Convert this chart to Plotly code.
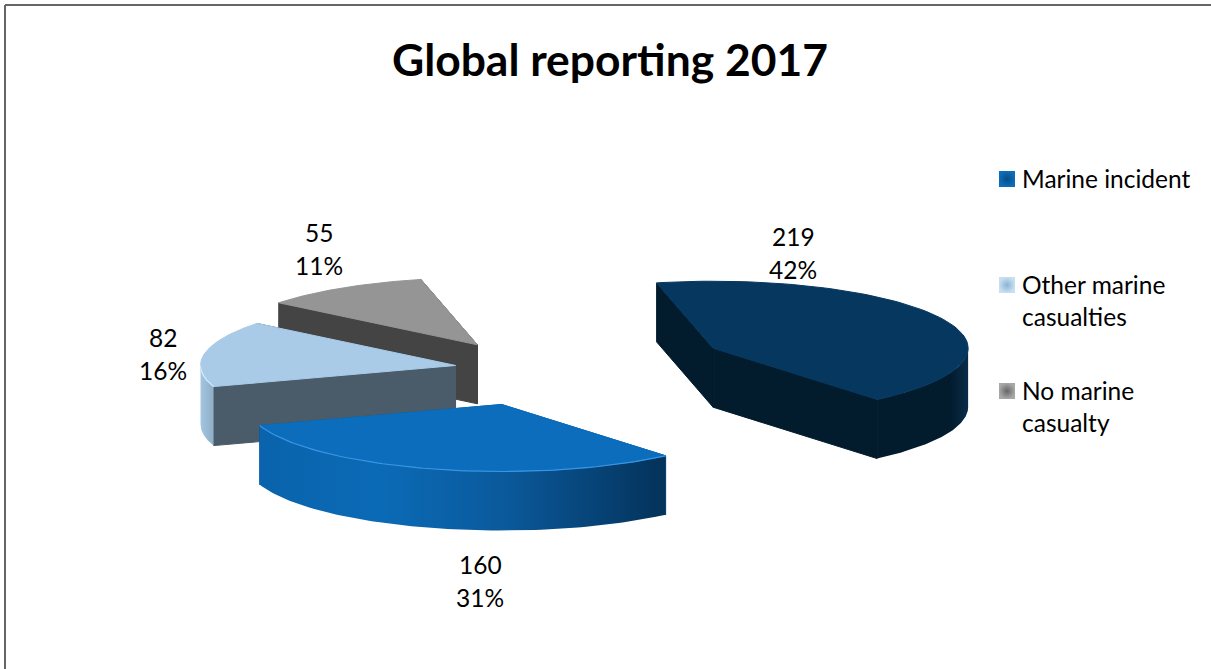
import numpy as np
import plotly.graph_objects as go

# Categories and reported counts
categories = ["Marine incident", "Other marine casualties", "No marine casualty"]
values = [219, 160, 82, 55]
legend_lines = [["Marine incident"], ["Other marine", "casualties"], ["No marine", "casualty"]]
title_text = "Global reporting 2017"

# Projection of the tilted pie onto the page, in page pixels
W, H = 1211, 669
CX, CY = 551, 366
RX, RY = 255, 67
DEPTH = 59
FIRST_ANGLE = -12.8
EXPLODE_X = [181, 181, 97, 139]
EXPLODE_Y = [40, 40, 3, 25]
FONT = "Lato"
LABEL_SIZE = 24.5

STYLES = [
    dict(top="#06375F", cut="#021B2D", wall=[[0, "#021B2D"], [0.8, "#021B2D"], [1, "#0A2C49"]], rim=None),
    dict(top="#0B6DBB", cut="#0A5A9C", wall=[[0, "#0A63AC"], [0.3, "#0B6AB6"], [0.6, "#0A5A9C"], [1, "#04325A"]], rim="#3A96E4"),
    dict(top="#A9CBE8", cut="#4A5B69", wall=[[0, "#A3C6E2"], [1, "#8FAEC6"]], rim="#D6EAF8"),
    dict(top="#959595", cut="#444444", wall=[[0, "#444444"], [1, "#444444"]], rim=None),
]
LABEL_POS = [(793, 236), (480, 564), (163, 337), (319, 232)]
LEGEND_POS = [(999, 179), (999, 285), (999, 391)]
SWATCH = [("#0B6DBB", "#0A4C85"), ("#C6E0F2", "#8DB4D2"), ("#A8A8A8", "#666666")]

shares = np.array(values) / sum(values)
sweeps = shares * 360
starts = FIRST_ANGLE + np.concatenate([[0], np.cumsum(sweeps)[:-1]])


def rim_points(apex, a0, a1, n=80):
    """Points on the upper rim between two clockwise angles measured from 12 o'clock."""
    t = np.radians(np.linspace(a0, a1, n))
    return apex[0] + RX * np.sin(t), apex[1] - RY * np.cos(t)


def polygon(xs, ys, color=None, gradient=None):
    # Solid faces get a hairline in their own colour so neighbouring faces leave no seam
    line = dict(width=0) if gradient else dict(width=1, color=color)
    kw = dict(x=list(xs) + [xs[0]], y=list(ys) + [ys[0]], mode="lines", fill="toself",
              line=line, hoverinfo="skip", showlegend=False)
    if gradient:
        kw["fillgradient"] = dict(type="horizontal", colorscale=gradient)
    else:
        kw["fillcolor"] = color
    return go.Scatter(**kw)


fig = go.Figure()

# Slices are painted from the back of the pie to the front
for i in [3, 2, 1, 0]:
    start, sweep, style = starts[i], sweeps[i], STYLES[i]
    mid = np.radians(start + sweep / 2)
    apex = (CX + EXPLODE_X[i] * np.sin(mid), CY - EXPLODE_Y[i] * np.cos(mid))
    end = start + sweep
    rx_all, ry_all = rim_points(apex, start, end)

    # Straight cut faces from the apex out to the rim
    for k in (0, -1):
        fig.add_trace(polygon(
            [apex[0], rx_all[k], rx_all[k], apex[0]],
            [apex[1], ry_all[k], ry_all[k] + DEPTH, apex[1] + DEPTH],
            color=style["cut"]))

    # Outer wall: the front half of the rim only (90 to 270 degrees)
    lo, hi = max(start, 90), min(end, 270)
    if hi > lo:
        wx, wy = rim_points(apex, lo, hi)
        fig.add_trace(polygon(np.r_[wx, wx[::-1]], np.r_[wy, wy[::-1] + DEPTH], gradient=style["wall"]))

    # Top face
    fig.add_trace(polygon(np.r_[apex[0], rx_all], np.r_[apex[1], ry_all], color=style["top"]))

    # Highlight along the front rim
    if style["rim"] and hi > lo:
        wx, wy = rim_points(apex, lo, hi)
        fig.add_trace(go.Scatter(x=wx, y=wy, mode="lines", hoverinfo="skip", showlegend=False,
                                 line=dict(color=style["rim"], width=1.2)))

# Legend swatches
fig.add_trace(go.Scatter(
    x=[p[0] + 8 for p in LEGEND_POS], y=[p[1] for p in LEGEND_POS], mode="markers",
    hoverinfo="skip", showlegend=False,
    marker=dict(symbol="square", size=16, color=[c[0] for c in SWATCH],
                gradient=dict(type="radial", color=[c[1] for c in SWATCH]), line=dict(width=0))))

annotations = [dict(x=W * 0.504, y=58, text=f"<b>{title_text}</b>", showarrow=False,
                    font=dict(family=FONT, size=44.4, color="#000000"))]

# Two-line value labels: count and share
for v, s, (x, y) in zip(values, shares, LABEL_POS):
    for j, line in enumerate([str(v), f"{round(s * 100)}%"]):
        annotations.append(dict(x=x, y=y + j * 33, text=line, showarrow=False,
                                font=dict(family=FONT, size=LABEL_SIZE, color="#000000")))

# Legend text, one annotation per wrapped line
for lines, (x, y) in zip(legend_lines, LEGEND_POS):
    for j, line in enumerate(lines):
        annotations.append(dict(x=x + 21, y=y + j * 32 - 1, text=line, showarrow=False, xanchor="left",
                                font=dict(family=FONT, size=LABEL_SIZE, color="#000000")))

# Frame drawn along the top and left edges only
frame = [
    dict(type="line", x0=5, x1=W, y0=5, y1=5, line=dict(color="#666666", width=2)),
    dict(type="line", x0=5, x1=5, y0=5, y1=H, line=dict(color="#666666", width=2)),
]

fig.update_layout(
    width=W, height=H, margin=dict(l=0, r=0, t=0, b=0),
    paper_bgcolor="white", plot_bgcolor="white", showlegend=False,
    xaxis=dict(range=[0, W], visible=False, fixedrange=True),
    yaxis=dict(range=[H, 0], visible=False, fixedrange=True),
    annotations=annotations, shapes=frame,
)

fig.write_html("out.html", config=dict(displayModeBar=False))
